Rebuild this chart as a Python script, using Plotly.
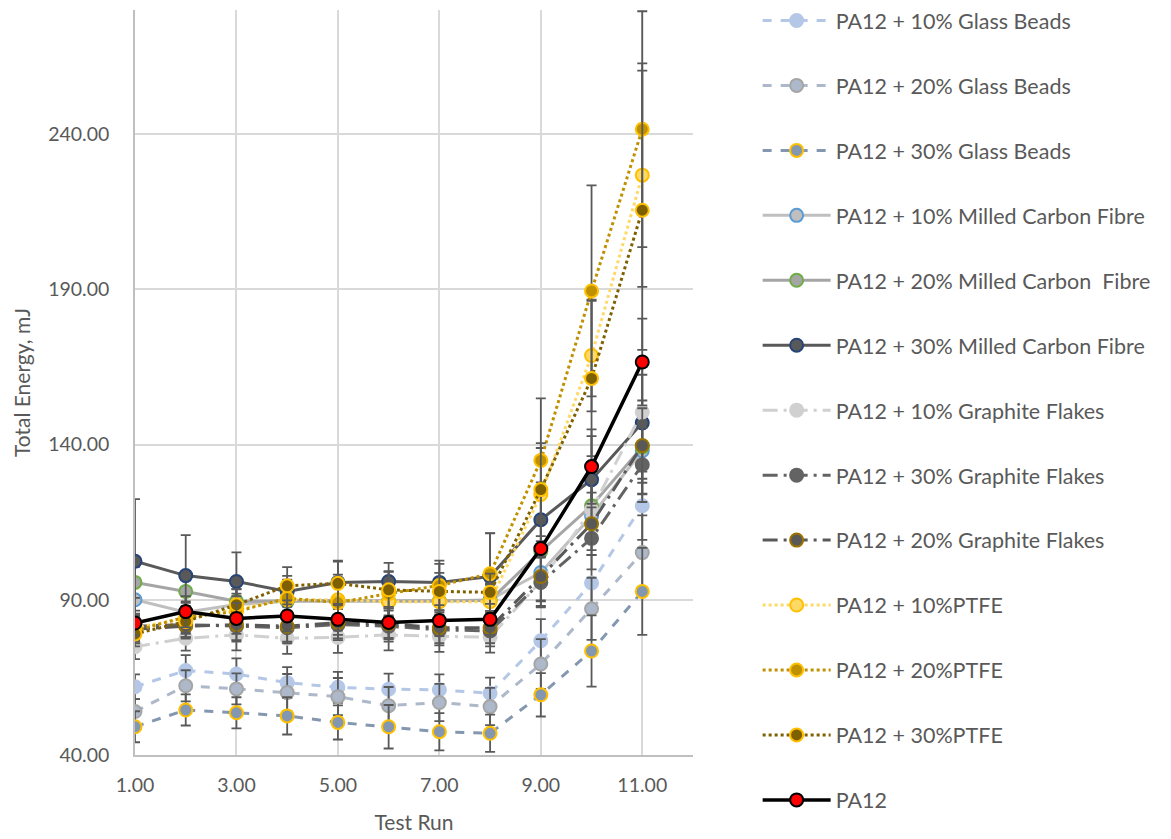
import plotly.graph_objects as go

test_run = [1, 2, 3, 4, 5, 6, 7, 8, 9, 10, 11]

series_names = [
    "PA12 + 10% Glass Beads",
    "PA12 + 20% Glass Beads",
    "PA12 + 30% Glass Beads",
    "PA12 + 10% Milled Carbon Fibre",
    "PA12 + 20% Milled Carbon  Fibre",
    "PA12 + 30% Milled Carbon Fibre",
    "PA12 + 10% Graphite Flakes",
    "PA12 + 30% Graphite Flakes",
    "PA12 + 20% Graphite Flakes",
    "PA12 + 10%PTFE",
    "PA12 + 20%PTFE",
    "PA12 + 30%PTFE",
    "PA12",
]

gb10 = [62.0, 67.2, 66.1, 63.3, 61.8, 61.2, 61.0, 59.9, 76.8, 95.4, 120.3]
gb20 = [54.0, 62.3, 61.3, 60.1, 58.8, 55.9, 56.9, 55.6, 69.3, 87.1, 105.2]
gb30 = [49.1, 54.5, 53.6, 52.6, 50.5, 49.1, 47.5, 47.0, 59.4, 73.5, 92.7]
mcf10 = [90.0, 86.0, 88.5, 89.5, 89.5, 89.5, 89.5, 90.0, 98.8, 117.0, 138.0]
mcf20 = [95.6, 92.7, 89.5, 89.7, 89.8, 89.6, 89.6, 89.8, 105.6, 120.3, 139.2]
mcf30 = [102.4, 97.8, 95.9, 92.7, 95.6, 95.9, 95.6, 97.5, 115.8, 128.7, 147.0]
gf10 = [74.9, 77.6, 78.7, 77.6, 77.9, 78.7, 78.2, 78.0, 96.0, 119.0, 150.5]
gf30 = [81.5, 82.0, 81.5, 81.0, 82.0, 81.5, 80.3, 80.0, 95.6, 109.8, 133.5]
gf20 = [80.5, 81.5, 82.0, 81.5, 82.6, 82.3, 81.0, 81.0, 97.5, 114.5, 139.7]
ptfe10 = [81.0, 84.0, 87.0, 90.0, 90.0, 89.4, 89.4, 89.4, 123.9, 168.7, 226.8]
ptfe20 = [80.0, 84.5, 86.2, 90.5, 89.1, 92.0, 94.6, 98.4, 134.9, 189.5, 241.6]
ptfe30 = [79.0, 83.0, 88.4, 94.5, 95.3, 93.2, 92.7, 92.4, 125.5, 161.3, 215.5]
pa12 = [82.5, 86.2, 84.0, 84.8, 83.7, 82.7, 83.3, 83.7, 106.5, 132.9, 166.6]

err_gb10 = [4, 5, 5, 5, 5, 5, 5, 5, 7, 9, 11]
err_gb20 = [4, 5, 5, 6, 6, 6, 6, 6, 8, 10, 12]
err_gb30 = [5, 5, 5, 6, 5.5, 7, 6, 6, 7, 11.5, 14]
err_mcf10 = [5, 5, 5, 5, 5, 5, 5, 5, 9, 11, 14]
err_mcf20 = [5, 5, 5, 5, 5, 5, 5, 5, 10, 12, 15]
err_mcf30 = [20, 13, 9.4, 5, 7, 6, 6, 14, 12, 14, 18]
err_gf10 = [4, 4, 5, 5, 5, 5, 5, 5, 8, 10, 12]
err_gf30 = [4, 4, 5, 5, 5, 5, 5, 5, 8, 10, 12]
err_gf20 = [4, 4, 5, 5, 5, 5, 5, 5, 8, 10, 12]
err_ptfe10 = [4, 5, 5, 5, 6, 5, 5, 6, 15, 18, 36]
err_ptfe20 = [4, 5, 5, 6, 9, 7, 8, 13, 20, 34, 38]
err_ptfe30 = [4, 5, 5, 6, 7, 6, 6, 6, 15, 25, 45]
err_pa12 = [4, 5, 5, 5, 5, 5, 5, 5, 10, 12, 14]

values = [gb10, gb20, gb30, mcf10, mcf20, mcf30, gf10, gf30, gf20, ptfe10, ptfe20, ptfe30, pa12]
errors = [err_gb10, err_gb20, err_gb30, err_mcf10, err_mcf20, err_mcf30, err_gf10,
          err_gf30, err_gf20, err_ptfe10, err_ptfe20, err_ptfe30, err_pa12]

# style: (line color, dash, line width, marker fill, marker outline)
styles = [
    ("#B4C7E7", "dash", 3, "#B4C7E7", "#B4C7E7"),
    ("#ADB9CA", "dash", 3, "#ADB9CA", "#A5A5A5"),
    ("#8497B0", "dash", 3, "#8497B0", "#FFC000"),
    ("#BFBFBF", "solid", 3, "#BFBFBF", "#5B9BD5"),
    ("#A5A5A5", "solid", 3, "#A5A5A5", "#70AD47"),
    ("#595959", "solid", 3, "#595959", "#264478"),
    ("#D0D0D0", "longdashdot", 3, "#D0D0D0", "#D0D0D0"),
    ("#636363", "longdashdot", 3, "#636363", "#636363"),
    ("#595959", "longdashdot", 3, "#595959", "#997300"),
    ("#FFD966", "dot", 3, "#FFD966", "#FFC000"),
    ("#BF9000", "dot", 3, "#BF9000", "#FFC000"),
    ("#7F6000", "dot", 3, "#7F6000", "#FFC000"),
    ("#000000", "solid", 3.5, "#FF0000", "#000000"),
]

fig = go.Figure()
for i, (name, vals, errs, st) in enumerate(zip(series_names, values, errors, styles)):
    lc, dash, lw, mf, mo = st
    fig.add_trace(go.Scatter(
        x=test_run, y=vals, name=name, mode="lines+markers",
        legendgroup=f"g{i}",
        line=dict(color=lc, dash=dash, width=lw),
        marker=dict(size=13, color=mf, line=dict(color=mo, width=2)),
        error_y=dict(type="data", array=errs, visible=True,
                     color="#595959", thickness=1.8, width=5),
    ))

font_family = "Lato, 'Open Sans', sans-serif"
fig.update_layout(
    width=1171, height=839,
    margin=dict(l=135, r=478, t=10, b=84, autoexpand=False),
    paper_bgcolor="white", plot_bgcolor="white",
    font=dict(family=font_family, color="#595959", size=20),
    legend=dict(
        x=0.647, y=1.003, xref="container", yref="container",
        xanchor="left", yanchor="top",
        maxheight=839,
        font=dict(size=21.5, color="#595959", family=font_family),
        tracegroupgap=34, itemwidth=68,
        bgcolor="rgba(0,0,0,0)",
    ),
    xaxis=dict(
        range=[1, 12], tickvals=[1, 3, 5, 7, 9, 11], tickformat=".2f",
        showgrid=True, gridcolor="#D9D9D9", gridwidth=1.5,
        showline=True, linecolor="#BFBFBF", linewidth=1.5,
        zeroline=False, ticks="", ticklabelstandoff=12,
        tickfont=dict(size=19.5, color="#595959"),
        title=dict(text="Test Run", font=dict(size=21, color="#595959"), standoff=20),
    ),
    yaxis=dict(
        range=[40, 280], tick0=40, dtick=50, tickformat=".2f",
        showgrid=True, gridcolor="#D9D9D9", gridwidth=1.5,
        showline=True, linecolor="#BFBFBF", linewidth=1.5,
        zeroline=False, ticks="", ticklabelstandoff=20,
        tickfont=dict(size=19.5, color="#595959"),
        title=dict(text="Total Energy, mJ", font=dict(size=21, color="#595959"), standoff=12),
    ),
)

fig.write_html("out.html", config={"displayModeBar": False},
               post_script="document.body.style.margin='0';document.body.style.overflow='hidden';")
